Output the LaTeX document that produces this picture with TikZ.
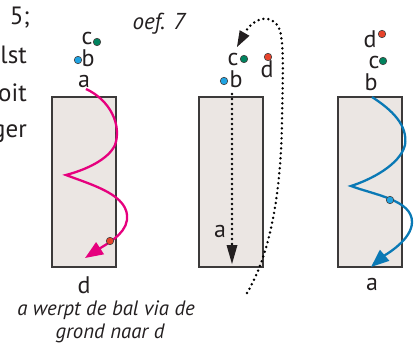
\documentclass[tikz,border=0pt]{standalone}
\usepackage{fontspec}
\setmainfont{PT Sans}
\usetikzlibrary{arrows.meta}
\definecolor{ink}{HTML}{231F20}
\definecolor{wallfill}{HTML}{EBE6E3}
\definecolor{wallline}{HTML}{3C3A3A}
\definecolor{passpink}{HTML}{E6007E}
\definecolor{passblue}{HTML}{0A79B5}
\definecolor{ballblue}{HTML}{1FA3E2}
\definecolor{ballgreen}{HTML}{00835E}
\definecolor{ballred}{HTML}{E8432B}
\begin{document}
\begin{tikzpicture}[x=1pt,y=-1pt,
  lbl/.style={font=\fontsize{24}{28}\selectfont, text=ink, inner sep=0pt, anchor=base},
  side/.style={font=\fontsize{25}{29}\selectfont, text=ink, inner sep=0pt, anchor=base east},
  note/.style={font=\fontsize{20.8}{25}\selectfont\itshape, text=ink, inner sep=0pt, anchor=base},
  ball/.style={circle, inner sep=0pt, minimum size=7.5pt, draw=ink!85, line width=0.6pt},
  wall/.style={draw=wallline, fill=wallfill, line width=1.1pt, inner sep=0pt, outer sep=0pt,
               minimum width=64pt, minimum height=170pt, anchor=north west},
  pass/.style={line width=2.3pt, -{Triangle[length=18pt,width=14pt]}},
  dots/.style={line width=2.7pt, line cap=round, dash pattern=on 0pt off 5pt}
]
\useasboundingbox (0,0) rectangle (417,347);

% cut-off text at the left margin
\node[side] (t1) at (30,25) {5;};
\node[side] (t2) at (27,64) {lst};
\node[side] (t3) at (27,102) {oit};
\node[side] (t4) at (27,138) {ger};
\node[note, font=\fontsize{23}{27}\selectfont\itshape] (title) at (159,30) {oef. 7};

% the three walls
\node[wall] (w1) at (52,97) {};
\node[wall] (w2) at (199,97) {};
\node[wall] (w3) at (338,97) {};

% ---- first situation
\node[lbl] (c1) at (87,45) {c};
\node[lbl] (b1) at (88,67) {b};
\node[lbl] (a1) at (84,88) {a};
\node[ball, fill=ballgreen] (gc1) at (97,42) {};
\node[ball, fill=ballblue] (gb1) at (78,60) {};
\node[lbl] (d1) at (84,293) {d};
\coordinate (p1s) at (86,89);
\coordinate (p1e) at (85,258);
\draw[pass, passpink] (p1s) .. controls (110,100) and (122,125) .. (115,145)
  .. controls (108,160) and (85,170) .. (66,175)
  .. controls (92,185) and (130,195) .. (127,220)
  .. controls (125,235) and (105,245) .. (p1e);
\node[ball, fill=ballred] (gd1) at (110,241) {};
\node[note] (cap) at (106,315) {a werpt de bal via de};
\node[note] (cap2) at (110,338) {grond naar d};

% ---- second situation
\node[lbl] (c2) at (233,66) {c};
\node[lbl] (d2) at (267,78) {d};
\node[lbl] (b2) at (236,88) {b};
\node[lbl] (a2) at (220,237) {a};
\node[ball, fill=ballgreen] (gc2) at (244,59) {};
\node[ball, fill=ballred] (gd2) at (268,57) {};
\node[ball, fill=ballblue] (gb2) at (224,81) {};
\coordinate (v2s) at (232,94);
\coordinate (v2e) at (232,264);
\draw[dots] (v2s) -- (232,246);
\draw[fill=ink, draw=none] (v2e) -- (226.5,245) -- (237.5,245) -- cycle;
\coordinate (r2s) at (247,293);
\coordinate (r2e) at (237,47);
\draw[dots] (r2s) .. controls (268,258) and (281,200) .. (282,120)
  .. controls (283,70) and (284,40) .. (279,28)
  .. controls (272,14) and (255,16) .. (244.5,33);
\draw[fill=ink, draw=none] (r2e) -- (239.7,30.2) -- (249.5,35.8) -- cycle;

% ---- third situation
\node[lbl] (d3) at (370,48) {d};
\node[lbl] (c3) at (374,69) {c};
\node[lbl] (b3) at (371,91) {b};
\node[ball, fill=ballred] (gd3) at (382,34) {};
\node[ball, fill=ballgreen] (gc3) at (383,61) {};
\node[lbl] (a3) at (372,290) {a};
\coordinate (p3s) at (372,97);
\coordinate (p3e) at (371,267);
\draw[pass, passblue] (p3s) .. controls (392,110) and (408,125) .. (405,145)
  .. controls (400,165) and (370,180) .. (351,186)
  .. controls (375,195) and (412,200) .. (412,222)
  .. controls (412,240) and (385,255) .. (p3e);
\node[ball, fill=ballblue] (gb3) at (390,200) {};
\end{tikzpicture}
\end{document}
